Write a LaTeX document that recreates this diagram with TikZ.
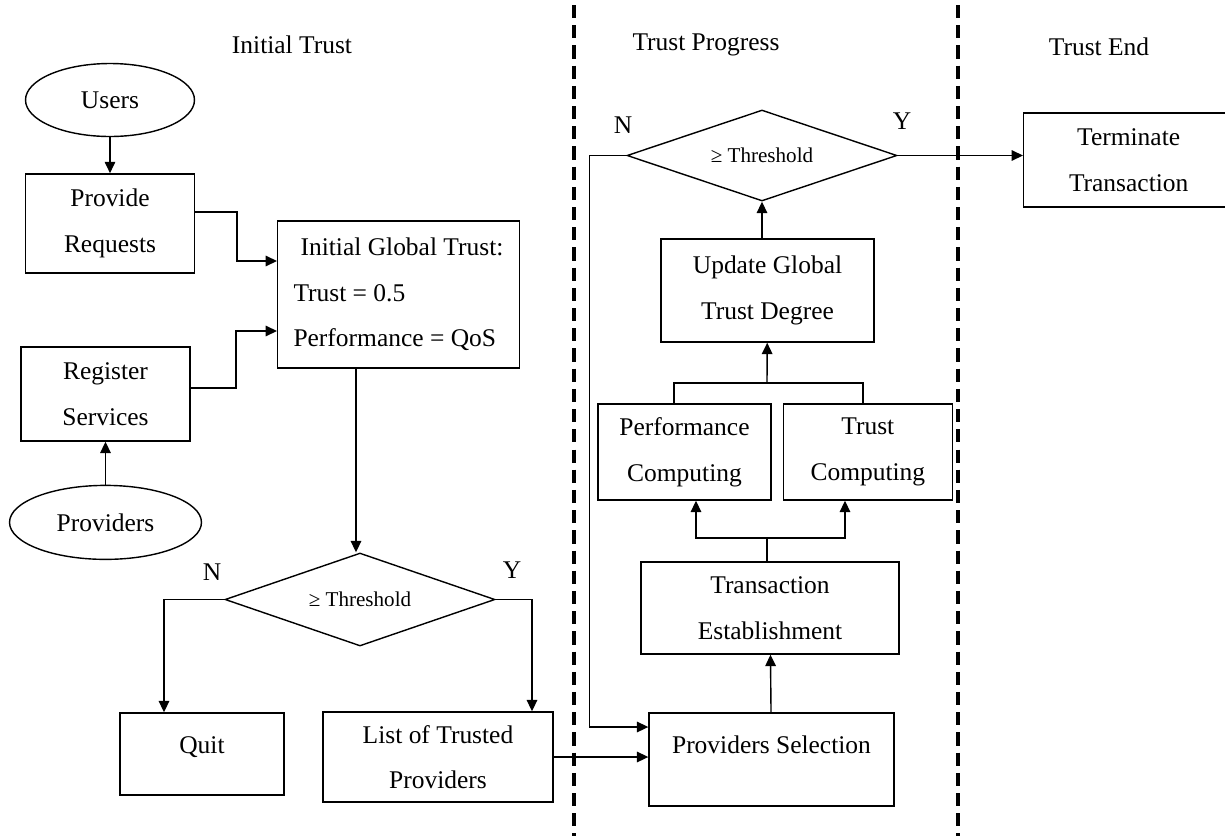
\documentclass[tikz,border=0pt]{standalone}
\usepackage{fontspec}
\setmainfont{Liberation Serif}
\usetikzlibrary{positioning,arrows.meta,shapes.geometric}

\begin{document}
\begin{tikzpicture}[x=0.02cm,y=-0.02cm,
  font=\fontsize{14.5}{26}\selectfont,
  line width=0.8pt,
  >={Triangle[length=6.5pt,width=6pt]},
  box/.style={draw,rectangle,align=center,inner sep=0pt},
  oval/.style={draw,ellipse,inner sep=0pt},
  test/.style={draw,diamond,aspect=2.9,inner sep=0pt,font=\fontsize{12}{14}\selectfont},
  lane/.style={line width=1.9pt,dash pattern=on 7.5pt off 4pt}]
  \useasboundingbox (0,0) rectangle (1225,836);
  \clip (0,0) rectangle (1225,836);

  % phases
  \node (tinit) at (292,45) {Initial Trust};
  \node (tprog) at (706,45) {Trust Progress};
  \node (tend) at (1099,47) {Trust End};
  \draw[lane] (574,5) -- (574,836);
  \draw[lane] (958,5) -- (958,836);

  % initial trust
  \node[oval,minimum width=3.38cm,minimum height=1.46cm] (users) at (110,100) {Users};
  \node[box,minimum width=3.38cm,minimum height=1.98cm,below=0.72cm of users] (req) {Provide\\Requests};
  \node[box,align=left,anchor=west,inner xsep=9pt,minimum height=2.94cm] (init) at (277,294.5)
    {\hspace*{4pt}Initial Global Trust:\\Trust = 0.5\\Performance = QoS};
  \node[box,minimum width=3.38cm,minimum height=1.88cm] (reg) at (105.5,394) {Register\\Services};
  \node[oval,minimum width=3.84cm,minimum height=1.48cm,below=0.86cm of reg] (prov) {Providers};
  \node[test,minimum width=5.4cm,minimum height=1.86cm] (chk1) at (360,599.5) {≥ Threshold};
  \node (n1) at (212,572) {N};
  \node (y1) at (512,570) {Y};
  \node[box,minimum width=3.28cm,minimum height=1.64cm,text height=10pt,text depth=11pt] (quit) at (202,754) {Quit};
  \node[box,minimum width=4.6cm,minimum height=1.8cm] (list) at (438,757) {List of Trusted\\Providers};

  % trust progress
  \node[box,minimum width=4.9cm,minimum height=1.86cm,text height=10pt,text depth=17pt] (sel) at (771.5,759.5) {Providers Selection};
  \node[box,minimum width=5.16cm,minimum height=1.84cm] (est) at (770,608) {Transaction\\Establishment};
  \node[box,minimum width=3.46cm,minimum height=1.92cm] (perf) at (684.5,452) {Performance\\Computing};
  \node[box,minimum width=3.38cm,minimum height=1.92cm,right=0.22cm of perf] (tcomp) {Trust\\Computing};
  \node[box,minimum width=4.26cm,minimum height=2.06cm] (upd) at (767.5,290.5) {Update Global\\Trust Degree};
  \node[test,minimum width=5.4cm,minimum height=1.82cm] (chk2) at (762,155.5) {≥ Threshold};
  \node (n2) at (623,125) {N};
  \node (y2) at (902,121) {Y};

  % trust end
  \node[box,anchor=west,minimum width=4.2cm,minimum height=1.88cm] (term) at (1023,160) {Terminate\\Transaction};

  \coordinate (split) at (767,538);
  \coordinate (merge) at (767,383);

  % connectors
  \draw[->] (users) -- (req);
  \draw[->] (req.east |- 0,212) -- (237,212) |- (init.west |- 0,261);
  \draw[->] (reg.east |- 0,388) -- (236,388) |- (init.west |- 0,331);
  \draw[->] (prov) -- (reg);
  \draw[->] (init.south -| 356,0) -- (chk1.north -| 356,0);
  \draw[->] (chk1.west) -| (quit.north -| 164,0);
  \draw[->] (chk1.east) -| (list.north -| 532,0);
  \draw[->] (list.east) -- (sel.west |- list.east);
  \draw[->] (sel) -- (est);
  \draw (est.north -| split) -- (split);
  \draw[->] (split) -| (perf.south -| 696,0);
  \draw[->] (split) -| (tcomp.south -| 845,0);
  \draw (perf.north -| 674,0) |- (merge) -| (tcomp.north -| 863,0);
  \draw[->] (merge) -- (upd);
  \draw[->] (upd.north -| chk2.south) -- (chk2.south);
  \draw[->] (chk2.west) -- ++(-37,0) |- (sel.west |- 0,727);
  \draw[->] (chk2.east) -- (term.west |- chk2.east);
\end{tikzpicture}
\end{document}
